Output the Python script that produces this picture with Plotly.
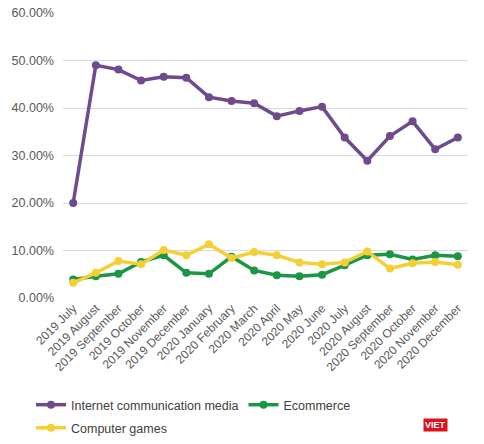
import plotly.graph_objects as go

months = ["2019 July", "2019 August", "2019 September", "2019 October",
          "2019 November", "2019 December", "2020 January", "2020 February",
          "2020 March", "2020 April", "2020 May", "2020 June", "2020 July",
          "2020 August", "2020 September", "2020 October", "2020 November",
          "2020 December"]

internet_media = [20.0, 49.0, 48.1, 45.8, 46.6, 46.4, 42.3, 41.5, 41.0, 38.3,
                  39.4, 40.3, 33.8, 28.9, 34.1, 37.2, 31.3, 33.8]
ecommerce = [3.9, 4.6, 5.1, 7.6, 9.0, 5.3, 5.1, 8.7, 5.8, 4.8,
             4.6, 4.9, 6.9, 9.0, 9.2, 8.1, 9.0, 8.8]
computer_games = [3.2, 5.3, 7.8, 7.1, 10.1, 9.0, 11.3, 8.4, 9.7, 9.0,
                  7.5, 7.1, 7.5, 9.8, 6.2, 7.3, 7.6, 7.0]

y_ticks = [0, 10, 20, 30, 40, 50, 60]
y_labels = ["%.2f%%" % v for v in y_ticks]

# name, values, colour, which legend row
series = [
    ("Internet communication media", internet_media, "#6f4a8d", "legend"),
    ("Ecommerce", ecommerce, "#1c9545", "legend"),
    ("Computer games", computer_games, "#f4cf35", "legend2"),
]

fig = go.Figure()
for name, vals, color, leg in series:
    fig.add_trace(go.Scatter(
        x=months, y=vals, name=name, mode="lines+markers",
        line=dict(color=color, width=3.5),
        marker=dict(color=color, size=8),
        legend=leg,
    ))

leg_font = dict(size=12.5, color="#404040")
fig.update_layout(
    width=484, height=444,
    margin=dict(l=63, r=16, t=13, b=146, autoexpand=False),
    plot_bgcolor="white", paper_bgcolor="white",
    font=dict(family="Liberation Sans, Arial, sans-serif", size=12, color="#595959"),
    showlegend=True,
    legend=dict(orientation="h", x=-0.079, y=-0.323, xanchor="left", yanchor="top",
                font=leg_font, bgcolor="rgba(0,0,0,0)"),
    legend2=dict(orientation="h", x=-0.079, y=-0.404, xanchor="left", yanchor="top",
                 font=leg_font, bgcolor="rgba(0,0,0,0)"),
    annotations=[dict(text="<b>VIET</b>", xref="paper", yref="paper",
                      x=0.919, y=-0.446, xanchor="center", yanchor="middle",
                      showarrow=False, bgcolor="#e0101e",
                      font=dict(color="white", size=9), borderpad=1)],
)
fig.update_xaxes(tickangle=-45, showgrid=False, showline=False, ticks="",
                 range=[-0.45, 17.45], automargin=False,
                 tickfont=dict(size=12, color="#595959"))
fig.update_yaxes(range=[0, 60.02], tickvals=y_ticks, ticktext=y_labels,
                 showgrid=True, gridcolor="#d9d9d9", gridwidth=1,
                 zeroline=False, showline=False, ticks="", automargin=False,
                 ticklabelstandoff=8, ticklabeloverflow="allow",
                 tickfont=dict(size=12.5, color="#595959"))

# drop the default 8px page margin so the figure sits at the window corner
fig.write_html("out.html", config={"displayModeBar": False},
               post_script="document.body.style.margin='0';")
